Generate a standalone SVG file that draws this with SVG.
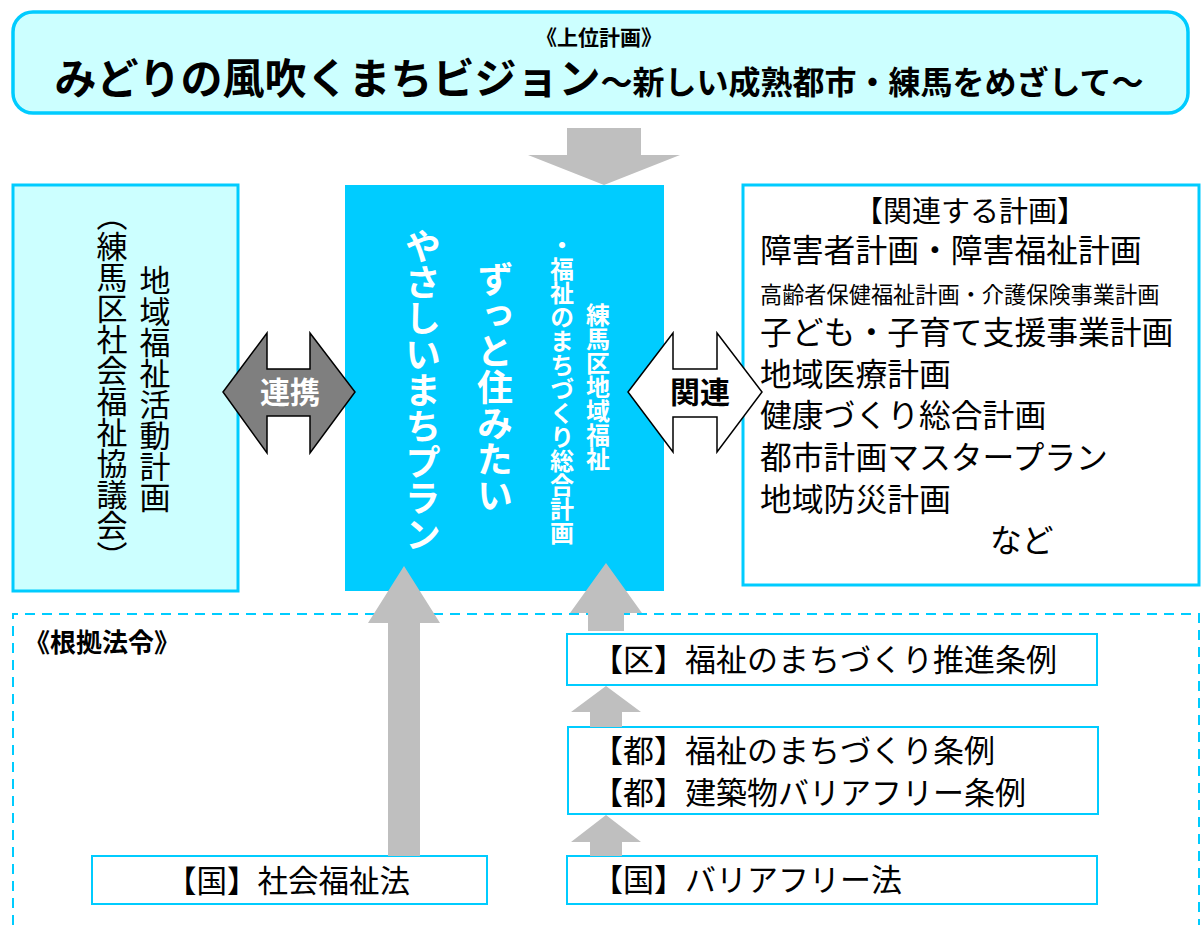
<svg xmlns="http://www.w3.org/2000/svg" width="1203" height="925" viewBox="0 0 1203 925">
<style>
text { font-family: "Noto Sans CJK JP", "Noto Sans", sans-serif; }
.b { font-weight: bold; }
.v { writing-mode: vertical-rl; }
.box { fill: #FFFFFF; stroke: #00CCFF; }
.gray { fill: #BFBFBF; stroke: none; }
</style>
<rect width="1203" height="925" fill="#FFFFFF"/>

<g id="top-plan">
  <rect x="13" y="12" width="1175" height="101" rx="20" ry="20" fill="#CCFFFF" stroke="#00CCFF" stroke-width="3.5"/>
  <text x="599" y="45" class="b" font-size="21" text-anchor="middle">《上位計画》</text>
  <text x="599" y="94" class="b" text-anchor="middle"><tspan font-size="42">みどりの風吹くまちビジョン</tspan><tspan font-size="32">～新しい成熟都市・練馬をめざして～</tspan></text>
</g>

<g id="legal-basis">
  <path d="M13,925 V614 H1199 V925" fill="none" stroke="#00CCFF" stroke-width="2" stroke-dasharray="10 7"/>
  <text x="24" y="652" class="b" font-size="26">《根拠法令》</text>
</g>

<g id="left-plan">
  <rect x="13" y="185" width="225" height="406" fill="#CCFFFF" stroke="#00CCFF" stroke-width="3"/>
  <text x="155" y="265" class="v" font-size="31">地域福祉活動計画</text>
  <text x="112" y="200" class="v" font-size="31">（練馬区社会福祉協議会）</text>
</g>

<g id="main-plan">
  <rect x="345" y="185" width="319" height="406" fill="#00CCFF"/>
  <text x="598" y="303" class="v b" font-size="24" fill="#FFFFFF">練馬区地域福祉</text>
  <text x="562" y="233" class="v b" font-size="24" fill="#FFFFFF">・福祉のまちづくり総合計画</text>
  <text x="495" y="261" class="v b" font-size="36" fill="#FFFFFF">ずっと住みたい</text>
  <text x="423" y="228" class="v b" font-size="36" fill="#FFFFFF">やさしいまちプラン</text>
</g>

<g id="related-plans">
  <rect x="743" y="185" width="456" height="400" class="box" stroke-width="3"/>
  <text x="970" y="222" font-size="29" text-anchor="middle">【関連する計画】</text>
  <text x="760" y="262" font-size="31.8">障害者計画・障害福祉計画</text>
  <text x="760" y="303" font-size="22.2">高齢者保健福祉計画・介護保険事業計画</text>
  <text x="760" y="344" font-size="31.8">子ども・子育て支援事業計画</text>
  <text x="760" y="386" font-size="31.8">地域医療計画</text>
  <text x="760" y="427" font-size="31.8">健康づくり総合計画</text>
  <text x="760" y="469" font-size="31.8">都市計画マスタープラン</text>
  <text x="760" y="511" font-size="31.8">地域防災計画</text>
  <text x="990" y="552" font-size="31.8">など</text>
</g>

<g id="law-social-welfare">
  <rect x="92" y="856" width="395" height="48" class="box" stroke-width="2"/>
  <text x="166" y="892" font-size="30.5">【国】社会福祉法</text>
</g>

<g id="law-ward">
  <rect x="567" y="634" width="530" height="51" class="box" stroke-width="2"/>
  <text x="592" y="671" font-size="31">【区】福祉のまちづくり推進条例</text>
</g>

<g id="law-metro">
  <rect x="568" y="727" width="530" height="87" class="box" stroke-width="2"/>
  <text x="592" y="762" font-size="31">【都】福祉のまちづくり条例</text>
  <text x="592" y="804" font-size="31">【都】建築物バリアフリー条例</text>
</g>

<g id="law-barrier-free">
  <rect x="567" y="856" width="530" height="48" class="box" stroke-width="2"/>
  <text x="592" y="891" font-size="31">【国】バリアフリー法</text>
</g>

<g id="connectors">
  <polygon class="gray" points="567,128 641,128 641,155 680,155 604,185 528,155 567,155"/>
  <polygon points="223,392 267,333 267,369 310,369 310,333 355,392 310,453 310,416 267,416 267,453" fill="#7F7F7F" stroke="#000000" stroke-width="1.5" stroke-linejoin="miter"/>
  <text x="290" y="403" class="b" font-size="30" fill="#FFFFFF" text-anchor="middle">連携</text>
  <polygon points="628,392 673,333 673,369 717,369 717,333 762,392 717,452 717,417 673,417 673,452" fill="#FFFFFF" stroke="#000000" stroke-width="1.5"/>
  <text x="700" y="403" class="b" font-size="30" fill="#000000" text-anchor="middle">関連</text>
  <polygon class="gray" points="404,566 440,623 420,623 420,856 388,856 388,623 368,623"/>
  <polygon class="gray" points="606,563 642,613 624,613 624,631 588,631 588,613 570,613"/>
  <polygon class="gray" points="606,686 641,712 622,712 622,727 590,727 590,712 571,712"/>
  <polygon class="gray" points="606,815 641,842 622,842 622,856 590,856 590,842 571,842"/>
</g>
</svg>
